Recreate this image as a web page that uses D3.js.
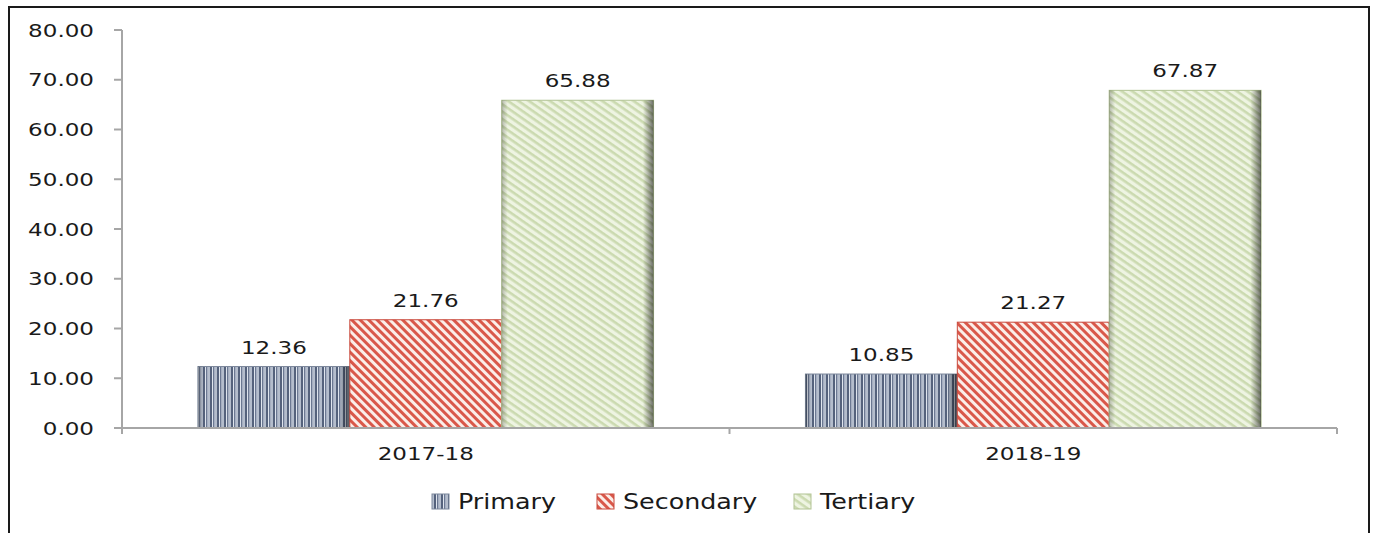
<!DOCTYPE html>
<html>
<head>
<meta charset="utf-8">
<script src="https://cdn.jsdelivr.net/npm/d3@7"></script>
<style>
  html, body { margin: 0; padding: 0; background: #fff; }
  svg { display: block; }
  text { font-family: "DejaVu Sans", Verdana, sans-serif; fill: #1a1a1a; }
</style>
</head>
<body>
<svg id="chart" width="1375" height="533"></svg>
<script>
// Share of sectors by year
const years = ["2017-18", "2018-19"];
const sectors = ["Primary", "Secondary", "Tertiary"];
const primary = [12.36, 10.85];
const secondary = [21.76, 21.27];
const tertiary = [65.88, 67.87];
const yTicks = [0, 10, 20, 30, 40, 50, 60, 70, 80];

const seriesValues = { Primary: primary, Secondary: secondary, Tertiary: tertiary };

const svg = d3.select("#chart");
const W = 1375, H = 533;

const x0 = d3.scaleBand().domain(years).range([122, 1337]).paddingInner(0).paddingOuter(0);
const x1 = d3.scaleBand().domain(sectors).range([0, x0.bandwidth()]).paddingInner(0).paddingOuter(0.5);
const y = d3.scaleLinear().domain([0, 80]).range([428, 30]);

// Fill patterns
const defs = svg.append("defs");

const pPrim = defs.append("pattern").attr("id", "pat-primary")
  .attr("patternUnits", "userSpaceOnUse").attr("width", 7).attr("height", 10);
pPrim.append("rect").attr("width", 7).attr("height", 10).attr("fill", "#dfe5ee");
pPrim.append("rect").attr("x", 0).attr("width", 2).attr("height", 10).attr("fill", "#55627c");
pPrim.append("rect").attr("x", 3).attr("width", 1.5).attr("height", 10).attr("fill", "#6b7892");
pPrim.append("rect").attr("x", 5.5).attr("width", 1).attr("height", 10).attr("fill", "#8a95ab");

const pSec = defs.append("pattern").attr("id", "pat-secondary")
  .attr("patternUnits", "userSpaceOnUse").attr("width", 6).attr("height", 6)
  .attr("patternTransform", "rotate(45)");
pSec.append("rect").attr("width", 6).attr("height", 6).attr("fill", "#fbeee9");
pSec.append("rect").attr("width", 6).attr("height", 3).attr("fill", "#d9584a");

const pTer = defs.append("pattern").attr("id", "pat-tertiary")
  .attr("patternUnits", "userSpaceOnUse").attr("width", 6).attr("height", 6)
  .attr("patternTransform", "rotate(35)");
pTer.append("rect").attr("width", 6).attr("height", 6).attr("fill", "#eef4e2");
pTer.append("rect").attr("width", 6).attr("height", 2.6).attr("fill", "#cbdab0");

// Side shading that gives the bars their bevelled look
const shade = defs.append("linearGradient").attr("id", "bar-shade")
  .attr("x1", "0").attr("x2", "1").attr("y1", "0").attr("y2", "0");
shade.append("stop").attr("offset", "0").attr("stop-color", "#000").attr("stop-opacity", 0.25);
shade.append("stop").attr("offset", "0.04").attr("stop-color", "#000").attr("stop-opacity", 0.0);
shade.append("stop").attr("offset", "0.93").attr("stop-color", "#000").attr("stop-opacity", 0.0);
shade.append("stop").attr("offset", "1").attr("stop-color", "#000").attr("stop-opacity", 0.55);

const fills = { Primary: "url(#pat-primary)", Secondary: "url(#pat-secondary)", Tertiary: "url(#pat-tertiary)" };
const strokes = { Primary: "#7d889c", Secondary: "#c9493c", Tertiary: "#b2c394" };

// Outer frame
svg.append("rect").attr("x", 9).attr("y", 7).attr("width", 1360).attr("height", 540)
  .attr("fill", "none").attr("stroke", "#1a1a1a").attr("stroke-width", 2);

// Bars
const rows = [];
years.forEach((yr, i) => sectors.forEach(s => rows.push({ year: yr, sector: s, value: seriesValues[s][i] })));

const bars = svg.append("g");
rows.forEach(d => {
  const bx = x0(d.year) + x1(d.sector);
  const bw = x1.bandwidth();
  const by = y(d.value);
  const bh = y(0) - y(d.value);
  bars.append("rect").attr("x", bx).attr("y", by).attr("width", bw).attr("height", bh)
    .attr("fill", fills[d.sector]).attr("stroke", strokes[d.sector]).attr("stroke-width", 1);
  if (d.sector !== "Secondary") {
    bars.append("rect").attr("x", bx).attr("y", by).attr("width", bw).attr("height", bh)
      .attr("fill", "url(#bar-shade)");
  }
  const t = svg.append("text")
    .attr("transform", `translate(${bx + bw / 2},${by - 13}) scale(1.28,1)`)
    .attr("text-anchor", "middle").attr("font-size", 18)
    .text(d3.format(".2f")(d.value));
});

// Y axis
const yAxis = svg.append("g");
yAxis.append("line").attr("x1", 122).attr("x2", 122).attr("y1", y(80)).attr("y2", y(0) + 5)
  .attr("stroke", "#a6a6a6").attr("stroke-width", 2);
yTicks.forEach(v => {
  yAxis.append("line").attr("x1", 114).attr("x2", 122).attr("y1", y(v)).attr("y2", y(v))
    .attr("stroke", "#a6a6a6").attr("stroke-width", 2);
  yAxis.append("text")
    .attr("transform", `translate(94,${y(v) + 6.5}) scale(1.28,1)`)
    .attr("text-anchor", "end").attr("font-size", 18)
    .text(d3.format(".2f")(v));
});

// X axis
const xAxis = svg.append("g");
xAxis.append("line").attr("x1", 122).attr("x2", 1337).attr("y1", y(0)).attr("y2", y(0))
  .attr("stroke", "#a6a6a6").attr("stroke-width", 2);
const boundaries = years.map(yr => x0(yr)).concat([x0(years[years.length - 1]) + x0.bandwidth()]);
boundaries.forEach(bx => {
  xAxis.append("line").attr("x1", bx).attr("x2", bx).attr("y1", y(0)).attr("y2", y(0) + 6)
    .attr("stroke", "#a6a6a6").attr("stroke-width", 2);
});
years.forEach(yr => {
  xAxis.append("text")
    .attr("transform", `translate(${x0(yr) + x0.bandwidth() / 2},${y(0) + 32}) scale(1.28,1)`)
    .attr("text-anchor", "middle").attr("font-size", 18)
    .text(yr);
});

// Legend
const legendX = { Primary: 432, Secondary: 597, Tertiary: 794 };
const legend = svg.append("g");
sectors.forEach(s => {
  const lx = legendX[s];
  legend.append("rect").attr("x", lx).attr("y", 494).attr("width", 17).attr("height", 15)
    .attr("fill", fills[s]).attr("stroke", strokes[s]).attr("stroke-width", 1);
  legend.append("text")
    .attr("transform", `translate(${lx + 26},${509}) scale(1.18,1)`)
    .attr("font-size", 21.5)
    .text(s);
});
</script>
</body>
</html>
